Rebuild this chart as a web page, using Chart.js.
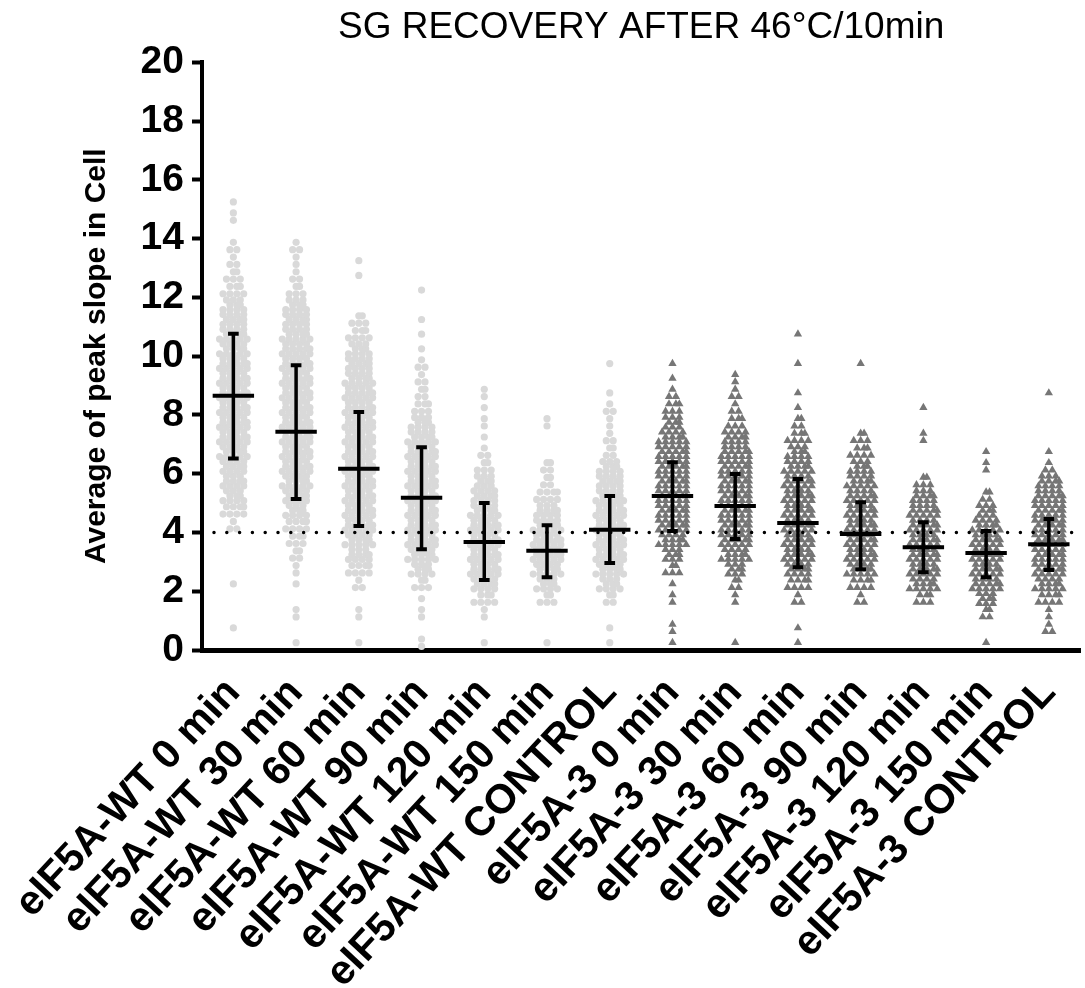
<!DOCTYPE html>
<html lang="en">
<head>
<meta charset="UTF-8">
<title>SG recovery after 46°C/10min</title>
<script src="https://cdn.jsdelivr.net/npm/chart.js@4.4.1/dist/chart.umd.min.js"></script>
<style>
  html, body { margin: 0; padding: 0; background: #fff; }
  #wrap { width: 1085px; height: 988px; position: relative; }
</style>
</head>
<body>
<div id="wrap"><canvas id="chart"></canvas></div>
<script>
const groups = [
  'eIF5A-WT 0 min', 'eIF5A-WT 30 min', 'eIF5A-WT 60 min', 'eIF5A-WT 90 min',
  'eIF5A-WT 120 min', 'eIF5A-WT 150 min', 'eIF5A-WT CONTROL',
  'eIF5A-3 0 min', 'eIF5A-3 30 min', 'eIF5A-3 60 min', 'eIF5A-3 90 min',
  'eIF5A-3 120 min', 'eIF5A-3 150 min', 'eIF5A-3 CONTROL'
];
const yTicks = [0, 2, 4, 6, 8, 10, 12, 14, 16, 18, 20];
const refLine = 4;

// mean and SD bar ends for each group
const means  = [8.65, 7.43, 6.17, 5.18, 3.68, 3.38, 4.09, 5.24, 4.90, 4.32, 3.95, 3.50, 3.30, 3.60];
const sdLow  = [6.52, 5.14, 4.22, 3.43, 2.38, 2.48, 2.96, 4.05, 3.78, 2.82, 2.75, 2.65, 2.48, 2.72];
const sdHigh = [10.76, 9.69, 8.10, 6.90, 5.00, 4.25, 5.24, 6.39, 5.99, 5.82, 5.03, 4.35, 4.05, 4.46];

// number of cells in each 0.5-wide bin, first bin starts at 0
const binWidth = 0.5;
const wt0   = [0,1,0,0,1,0,0,0,3,8,10,11,12,13,14,14,14,14,14,14,13,13,12,10,7,5,3,3,0,2,1];
const wt30  = [1,0,2,0,1,2,4,6,8,10,12,13,14,14,14,14,14,14,14,14,14,13,12,10,5,3,2,3,0,0,0];
const wt60  = [1,0,2,0,3,8,11,13,14,14,14,14,14,14,14,14,14,14,13,12,10,7,5,0,0,1,1,0,0,0,0];
const wt90  = [2,0,2,1,5,10,13,14,14,14,14,14,14,14,13,10,6,4,3,3,1,1,1,0,1,0,0,0,0,0,0];
const wt120 = [1,0,2,7,12,14,14,14,14,13,12,9,5,3,1,2,1,2,0,0,0,0,0,0,0,0,0,0,0,0,0];
const wt150 = [1,0,0,5,10,13,14,14,13,11,8,4,4,0,0,2,0,0,0,0,0,0,0,0,0,0,0,0,0,0,0];
const wtCtl = [1,1,0,4,10,13,14,14,14,14,13,12,10,4,3,2,3,1,0,1,0,0,0,0,0,0,0,0,0,0,0];
const m0    = [1,2,0,2,1,5,9,13,15,15,15,15,15,15,13,9,6,3,1,1,0,0,0,0,0,0,0,0,0,0,0];
const m30   = [1,0,0,2,4,9,13,15,15,15,15,15,15,14,12,6,3,3,2,0,0,0,0,0,0,0,0,0,0,0,0];
const m60   = [1,1,0,3,8,12,14,14,14,14,14,14,13,10,7,4,1,1,0,1,0,1,0,0,0,0,0,0,0,0,0];
const m90   = [0,0,0,3,8,13,14,14,14,14,14,13,10,7,5,0,0,0,0,1,0,0,0,0,0,0,0,0,0,0,0];
const m120  = [0,0,0,6,13,14,14,14,14,14,11,5,0,0,2,0,1,0,0,0,0,0,0,0,0,0,0,0,0,0,0];
const m150  = [1,0,4,9,14,14,14,14,13,9,4,0,2,1,0,0,0,0,0,0,0,0,0,0,0,0,0,0,0,0,0];
const mCtl  = [0,3,2,8,13,15,15,15,15,15,14,11,3,1,0,0,0,1,0,0,0,0,0,0,0,0,0,0,0,0,0];

const wtBins = [wt0, wt30, wt60, wt90, wt120, wt150, wtCtl];
const mutBins = [m0, m30, m60, m90, m120, m150, mCtl];

// lay each bin out in rows of points spread around the group centre
function swarm(counts, gx) {
  const pts = [];
  counts.forEach((n, b) => {
    if (!n) return;
    const lo = b * binWidth;
    const nRows = n === 1 ? 1 : n <= 8 ? 2 : 3;
    for (let r = 0; r < nRows; r++) {
      const m = Math.floor((n + nRows - 1 - r) / nRows);
      if (!m) continue;
      const y = lo + binWidth * (2 * r + 1) / (2 * nRows);
      const step = m > 1 ? Math.min(0.11, 0.54 / (m - 1)) : 0;
      // every other row nudged sideways so the columns interleave
      const shift = (r % 2 && m > 1 && m < 6) ? step / 2 : 0;
      for (let j = 0; j < m; j++) {
        pts.push({ x: gx + (j - (m - 1) / 2) * step + (j === m - 1 ? 0 : shift), y });
      }
    }
  });
  return pts;
}

const wtPoints = wtBins.flatMap((c, i) => swarm(c, i));
const mutPoints = mutBins.flatMap((c, i) => swarm(c, i + wtBins.length));

const font = "'Liberation Sans', Arial, sans-serif";

// dotted reference line plus mean / SD bars on top of the points
const summaryBars = {
  id: 'summaryBars',
  afterDatasetsDraw(chart) {
    const { ctx, chartArea, scales: { x, y } } = chart;
    ctx.save();
    ctx.strokeStyle = '#000';

    const yr = y.getPixelForValue(refLine);
    ctx.lineWidth = 3.5;
    ctx.lineCap = 'round';
    ctx.setLineDash([0, 12.8]);
    ctx.beginPath();
    ctx.moveTo(chartArea.left + 12, yr);
    ctx.lineTo(chartArea.right, yr);
    ctx.stroke();
    ctx.setLineDash([]);
    ctx.lineCap = 'butt';

    means.forEach((m, i) => {
      const cx = x.getPixelForValue(i);
      const ym = y.getPixelForValue(m);
      const yl = y.getPixelForValue(sdLow[i]);
      const yh = y.getPixelForValue(sdHigh[i]);
      const half = x.getPixelForValue(i + 0.33) - cx;
      const cap = x.getPixelForValue(i + 0.085) - cx;

      ctx.lineWidth = 3.5;
      ctx.beginPath();
      ctx.moveTo(cx, yh);
      ctx.lineTo(cx, yl);
      ctx.stroke();

      ctx.lineWidth = 4;
      ctx.beginPath();
      ctx.moveTo(cx - cap, yh); ctx.lineTo(cx + cap, yh);
      ctx.moveTo(cx - cap, yl); ctx.lineTo(cx + cap, yl);
      ctx.moveTo(cx - half, ym); ctx.lineTo(cx + half, ym);
      ctx.stroke();
    });
    ctx.restore();
  }
};

new Chart(document.getElementById('chart'), {
  type: 'scatter',
  data: {
    datasets: [
      {
        label: 'eIF5A-WT',
        data: wtPoints,
        pointStyle: 'circle',
        pointRadius: 3.6,
        pointBorderWidth: 0,
        backgroundColor: '#d9d9d9'
      },
      {
        label: 'eIF5A-3',
        data: mutPoints,
        pointStyle: 'triangle',
        pointRadius: 4.8,
        pointBorderWidth: 0,
        backgroundColor: '#767676'
      }
    ]
  },
  options: {
    responsive: true,
    maintainAspectRatio: false,
    animation: false,
    events: [],
    layout: { padding: 0 },
    plugins: {
      legend: { display: false },
      tooltip: { enabled: false },
      title: {
        display: true,
        text: 'SG RECOVERY AFTER 46°C/10min',
        color: '#000',
        fullSize: false,
        font: { family: font, size: 37, weight: 'normal' },
        padding: { top: 6, bottom: 12 }
      }
    },
    scales: {
      x: {
        type: 'linear',
        min: -0.5,
        max: groups.length - 0.5,
        afterBuildTicks: scale => { scale.ticks = groups.map((_, i) => ({ value: i })); },
        afterFit: scale => {
          // the long rotated labels hang under the y axis; keep the plot edges fixed
          scale.height = 338;
          scale.paddingLeft = 0;
          scale.paddingRight = 0;
        },
        grid: { display: false, drawTicks: false },
        border: { display: true, width: 5, color: '#000' },
        ticks: {
          autoSkip: false,
          minRotation: 47,
          maxRotation: 47,
          padding: 19,
          color: '#000',
          font: { family: font, size: 41, weight: 'bold' },
          callback: v => groups[v]
        }
      },
      y: {
        min: 0,
        max: 20,
        afterBuildTicks: scale => { scale.ticks = yTicks.map(v => ({ value: v })); },
        afterFit: scale => { scale.width = 202; },
        grid: {
          drawOnChartArea: false,
          drawTicks: true,
          tickLength: 10,
          tickWidth: 4,
          tickColor: '#000'
        },
        border: { display: true, width: 4, color: '#000' },
        ticks: {
          padding: 8,
          color: '#000',
          font: { family: font, size: 39, weight: 'bold' }
        },
        title: {
          display: true,
          text: 'Average of peak slope in Cell',
          color: '#000',
          font: { family: font, size: 30, weight: 'bold' },
          padding: { top: 79, bottom: 0 }
        }
      }
    }
  },
  plugins: [summaryBars]
});
</script>
</body>
</html>
